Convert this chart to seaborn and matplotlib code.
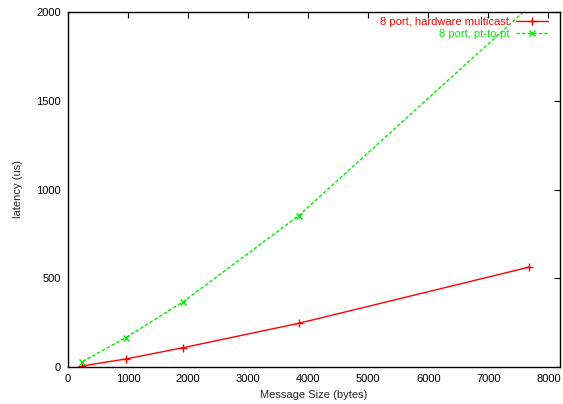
import matplotlib
matplotlib.use("Agg")
import matplotlib.pyplot as plt
import seaborn as sns
import pandas as pd

# Message sizes (bytes) and measured latencies (us)
sizes = [240, 960, 1920, 3840, 7680]
hw_multicast = [6, 45, 109, 246, 563]
pt_to_pt = [30, 165, 368, 852, 2030]

label_hw = "8 port, hardware multicast"
label_pt = "8 port, pt-to-pt"

x_ticks = [0, 1000, 2000, 3000, 4000, 5000, 6000, 7000, 8000]
y_ticks = [0, 500, 1000, 1500, 2000]

RED = "#ff0000"
GREEN = "#00ee00"

sns.set_style("white")
plt.rcParams["font.family"] = ["Liberation Sans", "DejaVu Sans"]

df_hw = pd.DataFrame({"size": sizes, "latency": hw_multicast})
df_pt = pd.DataFrame({"size": sizes, "latency": pt_to_pt})

fig = plt.figure(figsize=(5.63, 4.04), dpi=100)
ax = fig.add_axes([68 / 563, 1 - 367 / 404, (560 - 68) / 563, (367 - 12) / 404])

sns.lineplot(data=df_hw, x="size", y="latency", ax=ax, color=RED,
             marker="+", markersize=6, markeredgewidth=1.0,
             markeredgecolor=RED, linewidth=1.0, label=label_hw)
sns.lineplot(data=df_pt, x="size", y="latency", ax=ax, color=GREEN,
             marker="x", markersize=4.5, markeredgewidth=1.0,
             markeredgecolor=GREEN, linewidth=1.0, label=label_pt)
ax.lines[1].set_dashes([2.5, 1.5])

ax.set_xlim(0, 8192)
ax.set_ylim(0, 2000)
ax.set_xticks(x_ticks)
ax.set_yticks(y_ticks)
ax.tick_params(direction="in", length=4.5, width=0.8, labelsize=8,
               top=True, right=True, colors="black", pad=5)
for s in ax.spines.values():
    s.set_visible(True)
    s.set_color("black")
    s.set_linewidth(1.0)

ax.set_xlabel("Message Size (bytes)", fontsize=8, labelpad=4)
ax.set_ylabel("latency (us)", fontsize=8, labelpad=10)

leg = ax.legend(loc="upper right", frameon=False, markerfirst=False,
                fontsize=8, handlelength=2.9, handletextpad=0.6,
                labelspacing=0.15, borderpad=0, borderaxespad=0,
                bbox_to_anchor=(548 / 563, 1 - 17 / 404),
                bbox_transform=fig.transFigure)
for txt, c in zip(leg.get_texts(), [RED, GREEN]):
    txt.set_color(c)

fig.savefig("out.png", dpi=100)
